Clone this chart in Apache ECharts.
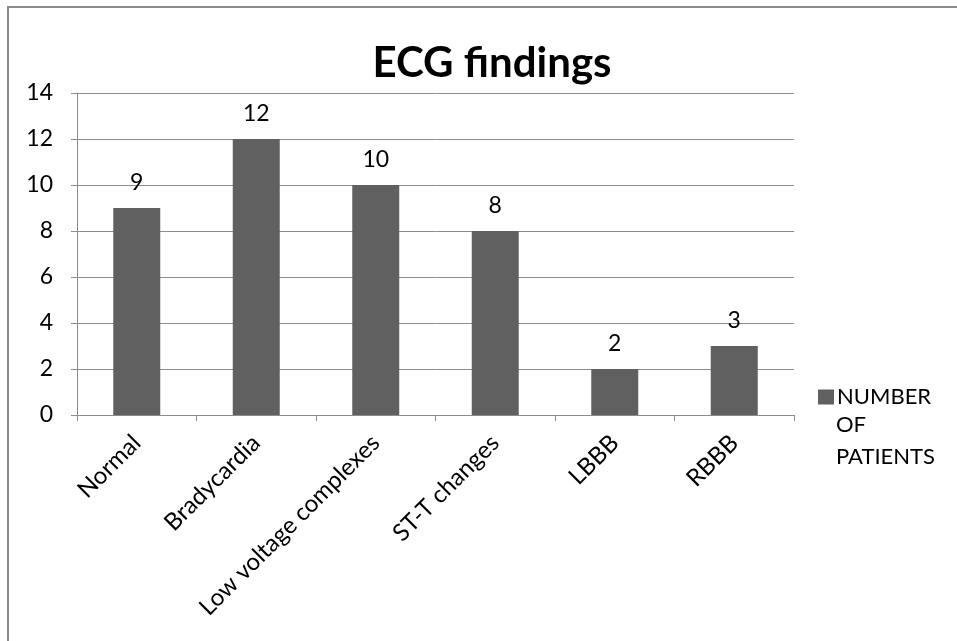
<!DOCTYPE html>
<html><head><meta charset="utf-8">
<script src="https://cdn.jsdelivr.net/npm/echarts@6/dist/echarts.min.js"></script>
<style>html,body{margin:0;padding:0;background:#fff}#c{width:957px;height:641px}</style>
</head><body><div id="c"></div>
<script>
const categories = ["Normal","Bradycardia","Low voltage complexes","ST-T changes","LBBB","RBBB"];
const patients = [9,12,10,8,2,3];
const seriesName = "NUMBER OF PATIENTS";
const FONT = "Lato, 'Open Sans', sans-serif";
const chart = echarts.init(document.getElementById('c'), null, {renderer:'canvas'});
chart.setOption({
  animation:false,
  backgroundColor:'#fff',
  title:{text:'ECG findings', left:487, top:37, textAlign:'center',
    textStyle:{fontFamily:FONT, fontSize:42, fontWeight:'bold', color:'#000'}},
  graphic:[
    {type:'rect', shape:{x:8,y:7,width:1000,height:700}, style:{fill:'none', stroke:'#8a8a8a', lineWidth:2}, silent:true},
    {type:'text', left:836, top:409, style:{text:'OF\nPATIENTS', fontFamily:FONT, fontSize:22, lineHeight:32, fill:'#000'}, silent:true}
  ],
  legend:{show:true, left:813, top:381, itemWidth:16, itemHeight:15, itemGap:4,
    icon:'rect',
    formatter:()=> 'NUMBER',
    textStyle:{fontFamily:FONT, fontSize:22, color:'#000', padding:[0,0,0,-2]}},
  grid:{left:77, right:163, top:93, bottom:226, containLabel:false},
  xAxis:{type:'category', data:categories,
    axisLine:{lineStyle:{color:'#8c8c8c', width:1}},
    axisTick:{show:true, length:6, lineStyle:{color:'#8c8c8c'}},
    axisLabel:{rotate:45, interval:0, margin:24, fontFamily:FONT, fontSize:24, color:'#000'}},
  yAxis:{type:'value', min:0, max:14, interval:2,
    axisLine:{show:true, lineStyle:{color:'#8c8c8c'}},
    axisTick:{show:true, length:6, lineStyle:{color:'#8c8c8c'}},
    splitLine:{lineStyle:{color:'#8c8c8c', width:1}},
    axisLabel:{margin:24, fontFamily:FONT, fontSize:23, color:'#000'}},
  series:[{name:seriesName, type:'bar', data:patients, barWidth:47,
    itemStyle:{color:'#606060'},
    label:{show:true, position:'top', distance:14, fontFamily:FONT, fontSize:23, color:'#000'}}]
});
</script></body></html>
